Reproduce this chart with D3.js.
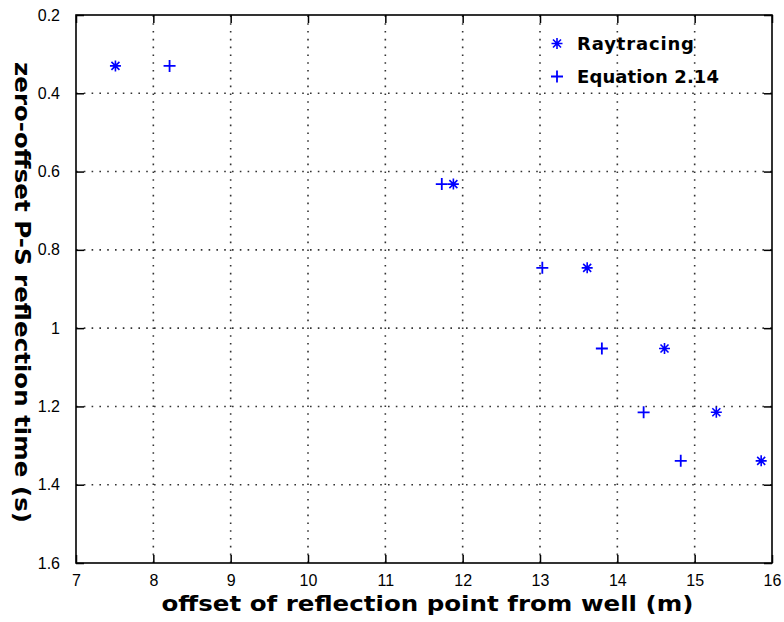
<!DOCTYPE html>
<html>
<head>
<meta charset="utf-8">
<script src="https://cdn.jsdelivr.net/npm/d3@7"></script>
<style>
  html, body { margin: 0; padding: 0; background: #fff; }
  svg { display: block; }
  text { font-family: "Liberation Sans", Arial, Helvetica, sans-serif; fill: #000; }
  .bold { font-family: "DejaVu Sans", "Liberation Sans", sans-serif; font-weight: bold; }
</style>
</head>
<body>
<svg id="chart" width="784" height="622"></svg>
<script>
// Zero-offset P-S reflection time against reflection-point offset
const seriesNames = ["Raytracing", "Equation 2.14"];
const reflTime    = [0.33, 0.632, 0.846, 1.052, 1.215, 1.339];
const rayOffset   = [7.51, 11.88, 13.61, 14.61, 15.28, 15.86];
const eqOffset    = [8.21, 11.73, 13.03, 13.80, 14.34, 14.82];
const xTicks = [7, 8, 9, 10, 11, 12, 13, 14, 15, 16];
const yTicks = [0.2, 0.4, 0.6, 0.8, 1.0, 1.2, 1.4, 1.6];
const xTitle = "offset of reflection point from well (m)";
const yTitle = "zero-offset P-S reflection time (s)";

const svg = d3.select("#chart");
const L = 76, R = 772, T = 15, B = 563;

const x = d3.scaleLinear().domain([7, 16]).range([L, R]);
const y = d3.scaleLinear().domain([0.2, 1.6]).range([T, B]); // time increases downward
const fmt = d3.format("~g");

// dotted grid
const grid = svg.append("g")
  .attr("stroke", "#333").attr("stroke-width", 1.6)
  .attr("stroke-dasharray", "1.6,6.2");
grid.selectAll(".gx").data(xTicks.slice(1, -1)).join("line")
  .attr("x1", d => x(d)).attr("x2", d => x(d))
  .attr("y1", B).attr("y2", T);
grid.selectAll(".gy").data(yTicks.slice(1, -1)).join("line")
  .attr("y1", d => y(d)).attr("y2", d => y(d))
  .attr("x1", L).attr("x2", R);

// axes with inward ticks, boxed on all four sides
const tickLen = 8;
const styleAxis = g => {
  g.select(".domain").remove();
  g.selectAll(".tick line").attr("stroke", "#000").attr("stroke-width", 1.5);
  g.selectAll(".tick text").style("font-size", "16px").attr("fill", "#000");
};
svg.append("g").attr("transform", `translate(0,${B})`)
  .call(d3.axisBottom(x).tickValues(xTicks).tickFormat(fmt).tickSizeInner(-tickLen).tickSizeOuter(0).tickPadding(12))
  .call(styleAxis);
svg.append("g").attr("transform", `translate(0,${T})`)
  .call(d3.axisTop(x).tickValues(xTicks).tickFormat("").tickSizeInner(-tickLen).tickSizeOuter(0))
  .call(styleAxis);
svg.append("g").attr("transform", `translate(${L},0)`)
  .call(d3.axisLeft(y).tickValues(yTicks).tickFormat(fmt).tickSizeInner(-tickLen).tickSizeOuter(0).tickPadding(16))
  .call(styleAxis);
svg.append("g").attr("transform", `translate(${R},0)`)
  .call(d3.axisRight(y).tickValues(yTicks).tickFormat("").tickSizeInner(-tickLen).tickSizeOuter(0))
  .call(styleAxis);

svg.append("rect")
  .attr("x", L).attr("y", T).attr("width", R - L).attr("height", B - T)
  .attr("fill", "none").attr("stroke", "#000").attr("stroke-width", 1.6);

// marker shapes
const starPath = "M-5.5,0H5.5M0,-5.5V5.5M-4,-4L4,4M-4,4L4,-4";
const plusPath = "M-6,0H6M0,-6V6";
const blue = "#0000ff";

const raySeries = rayOffset.map((v, i) => ({ x: v, t: reflTime[i] }));
const eqSeries  = eqOffset.map((v, i) => ({ x: v, t: reflTime[i] }));

svg.append("g").selectAll("path").data(raySeries).join("path")
  .attr("d", starPath)
  .attr("transform", d => `translate(${x(d.x)},${y(d.t)})`)
  .attr("stroke", blue).attr("stroke-width", 1.6).attr("fill", "none");
svg.append("g").selectAll("path").data(eqSeries).join("path")
  .attr("d", plusPath)
  .attr("transform", d => `translate(${x(d.x)},${y(d.t)})`)
  .attr("stroke", blue).attr("stroke-width", 1.8).attr("fill", "none");

// legend
const legend = svg.append("g").attr("transform", "translate(557,0)");
const legendRows = [
  { name: seriesNames[0], path: starPath, sw: 1.6, cy: 43.5, base: 50, len: 117 },
  { name: seriesNames[1], path: plusPath, sw: 1.8, cy: 76.5, base: 83, len: 142 }
];
legendRows.forEach(r => {
  legend.append("path").attr("d", r.path)
    .attr("transform", `translate(0,${r.cy})`)
    .attr("stroke", blue).attr("stroke-width", r.sw).attr("fill", "none");
  legend.append("text").attr("class", "bold")
    .attr("x", 20).attr("y", r.base)
    .attr("textLength", r.len).attr("lengthAdjust", "spacing")
    .style("font-size", "18px")
    .text(r.name);
});

// axis titles
svg.append("text").attr("class", "bold")
  .attr("x", (162 + 693) / 2).attr("y", 611)
  .attr("text-anchor", "middle")
  .attr("textLength", 532).attr("lengthAdjust", "spacingAndGlyphs")
  .style("font-size", "21px")
  .text(xTitle);
svg.append("text").attr("class", "bold")
  .attr("transform", `translate(15,${(62 + 523) / 2}) rotate(90)`)
  .attr("text-anchor", "middle")
  .attr("textLength", 461).attr("lengthAdjust", "spacingAndGlyphs")
  .style("font-size", "21px")
  .text(yTitle);
</script>
</body>
</html>
